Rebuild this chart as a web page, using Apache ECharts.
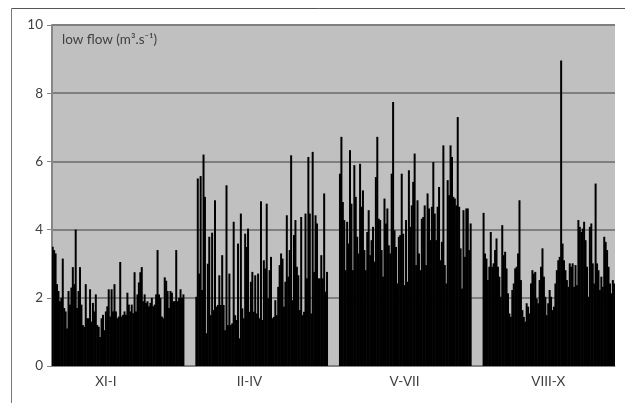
<!DOCTYPE html>
<html><head><meta charset="utf-8">
<script src="https://cdn.jsdelivr.net/npm/echarts@6/dist/echarts.min.js"></script>
<style>html,body{margin:0;padding:0;background:#fff}#c{width:625px;height:403px}</style>
</head><body><div id="c"></div>
<script>
const groupLabels = ['XI-I', 'II-IV', 'V-VII', 'VIII-X'];
const valuesXI_I = [3.5,3.4,3.3,2.4,2.2,1.9,2.0,3.15,1.7,1.6,
1.1,2.2,1.8,2.3,2.9,2.4,4.0,1.7,2.2,2.9,
1.8,1.2,1.15,2.4,1.4,1.4,2.25,1.3,1.85,1.6,
2.1,1.2,1.15,0.85,1.4,1.5,1.05,1.6,1.75,2.25,
1.45,2.25,1.6,2.4,1.6,1.4,1.45,3.05,1.45,1.5,
1.6,1.5,2.15,1.8,1.6,1.8,1.55,2.75,1.6,2.1,
2.45,2.75,2.9,1.9,2.1,1.85,1.9,1.75,1.85,2.0,
1.75,1.8,2.1,3.4,2.1,2.0,1.45,1.4,2.6,2.5,
2.2,1.7,2.2,2.15,1.9,1.9,3.4,1.9,2.0,2.25,
2.0,2.1];
const valuesII_IV = [2.03,5.5,2.71,5.57,2.23,6.2,4.96,0.96,3.0,3.79,
1.49,3.91,1.64,4.86,1.74,1.79,2.66,1.79,3.25,1.79,
1.05,5.3,1.2,2.71,1.2,1.25,4.23,1.49,1.35,3.59,
0.81,4.47,1.69,1.4,3.88,3.49,4.03,1.59,2.47,2.76,
1.59,2.66,1.54,2.71,1.4,4.83,1.35,3.1,2.86,4.76,
1.98,2.81,3.2,1.4,1.44,1.93,1.49,2.32,2.96,3.3,
3.15,1.74,2.47,4.42,2.62,3.4,6.18,1.93,3.84,4.28,
2.91,2.66,1.64,4.37,1.49,1.59,4.47,2.57,6.13,4.47,
1.54,6.28,2.76,4.42,4.18,2.57,2.57,3.25,2.57,5.06,
2.18,2.76];
const valuesV_VII = [5.64,6.72,4.81,4.28,2.81,4.23,3.59,6.33,4.76,
2.81,5.89,4.96,3.79,3.3,5.93,4.67,5.15,3.4,
2.81,3.93,4.57,3.25,3.69,4.08,3.06,5.54,6.72,
4.32,4.28,3.4,2.62,4.91,4.18,4.62,3.54,3.3,5.64,
7.74,3.98,3.49,2.42,3.79,3.84,5.64,3.88,2.37,
4.28,2.47,5.74,4.08,4.71,5.4,6.23,2.96,4.86,3.3,
2.81,4.32,4.37,4.71,2.96,5.06,4.62,3.69,4.67,5.98,
4.47,3.69,4.67,5.25,3.1,3.64,6.47,2.96,2.42,
5.45,5.01,6.47,6.13,4.96,4.91,4.71,7.3,4.67,
3.45,2.27,4.57,3.2,4.62,4.62,3.4,4.18];
const valuesVIII_X = [4.49,3.3,3.15,2.52,2.91,3.93,2.91,3.01,3.4,
3.74,2.91,2.62,2.03,4.13,3.25,3.35,2.86,2.13,
1.54,1.44,2.23,2.42,2.86,2.91,3.3,4.86,2.52,
1.64,1.44,1.3,1.84,1.74,1.54,2.42,2.81,2.71,
2.76,1.98,1.84,2.52,2.91,3.45,2.62,2.03,1.49,1.84,
2.23,2.03,1.64,1.74,2.42,2.81,3.1,3.2,
8.96,3.59,3.1,2.81,2.52,2.32,3.01,2.91,3.01,2.32,
2.96,2.37,4.28,4.08,3.93,4.03,4.23,3.69,2.91,2.03,
4.08,4.18,3.01,2.42,5.35,3.01,2.81,2.23,2.62,2.32,
3.79,3.64,3.4,2.91,2.42,2.13,2.52,2.42];
const gapLength = 8;
const yTicks = [0, 2, 4, 6, 8, 10];
const axisTitle = 'low flow (m³.s⁻¹)';
const labelOffsetInGroup = [37, 37, 45, 45];

const groups = [valuesXI_I, valuesII_IV, valuesV_VII, valuesVIII_X];
const categories = [];
const barData = [];
const labelAt = {};
groups.forEach((vals, g) => {
  const start = categories.length;
  labelAt[start + labelOffsetInGroup[g]] = groupLabels[g];
  vals.forEach((v, d) => { categories.push(groupLabels[g] + ' ' + (d + 1)); barData.push(v); });
  if (g < groups.length - 1) {
    for (let k = 0; k < gapLength; k++) { categories.push('gap' + g + '-' + k); barData.push(null); }
  }
});

const font = 'Lato, "Open Sans", sans-serif';
const chart = echarts.init(document.getElementById('c'), null, {renderer: 'canvas'});
chart.setOption({
  animation: false,
  backgroundColor: '#ffffff',
  grid: {left: 52, right: 10, top: 25, bottom: 37, show: true, backgroundColor: '#c0c0c0', borderWidth: 0, containLabel: false},
  graphic: [
    {type: 'line', shape: {x1: 11.5, y1: 8.5, x2: 640, y2: 8.5}, style: {stroke: '#555', lineWidth: 1}, z: 10},
    {type: 'line', shape: {x1: 11.5, y1: 8.5, x2: 11.5, y2: 420}, style: {stroke: '#777', lineWidth: 1}, z: 10},
    {type: 'text', left: 62, top: 33, style: {text: axisTitle, font: '13.5px ' + font, fill: '#404040'}, z: 10}
  ],
  xAxis: {
    type: 'category', data: categories, boundaryGap: true,
    axisLine: {show: true, lineStyle: {color: '#868686', width: 1}},
    axisTick: {show: false},
    axisLabel: {
      interval: (idx) => labelAt[idx] !== undefined,
      formatter: (val, idx) => labelAt[idx] || '',
      color: '#404040', fontSize: 13.5, fontFamily: font, margin: 9
    },
    splitLine: {show: false}
  },
  yAxis: {
    type: 'value', min: yTicks[0], max: yTicks[yTicks.length - 1], interval: 2,
    axisLine: {show: true, lineStyle: {color: '#868686', width: 2}},
    axisTick: {show: true, length: 5, lineStyle: {color: '#868686', width: 1}},
    axisLabel: {color: '#404040', fontSize: 13.5, fontFamily: font, margin: 9},
    splitLine: {show: true, lineStyle: {color: '#7f7f7f', width: 2}}
  },
  series: [{
    type: 'bar', data: barData, barWidth: 2,
    itemStyle: {color: '#000000'}, silent: true
  }]
});
</script></body></html>
